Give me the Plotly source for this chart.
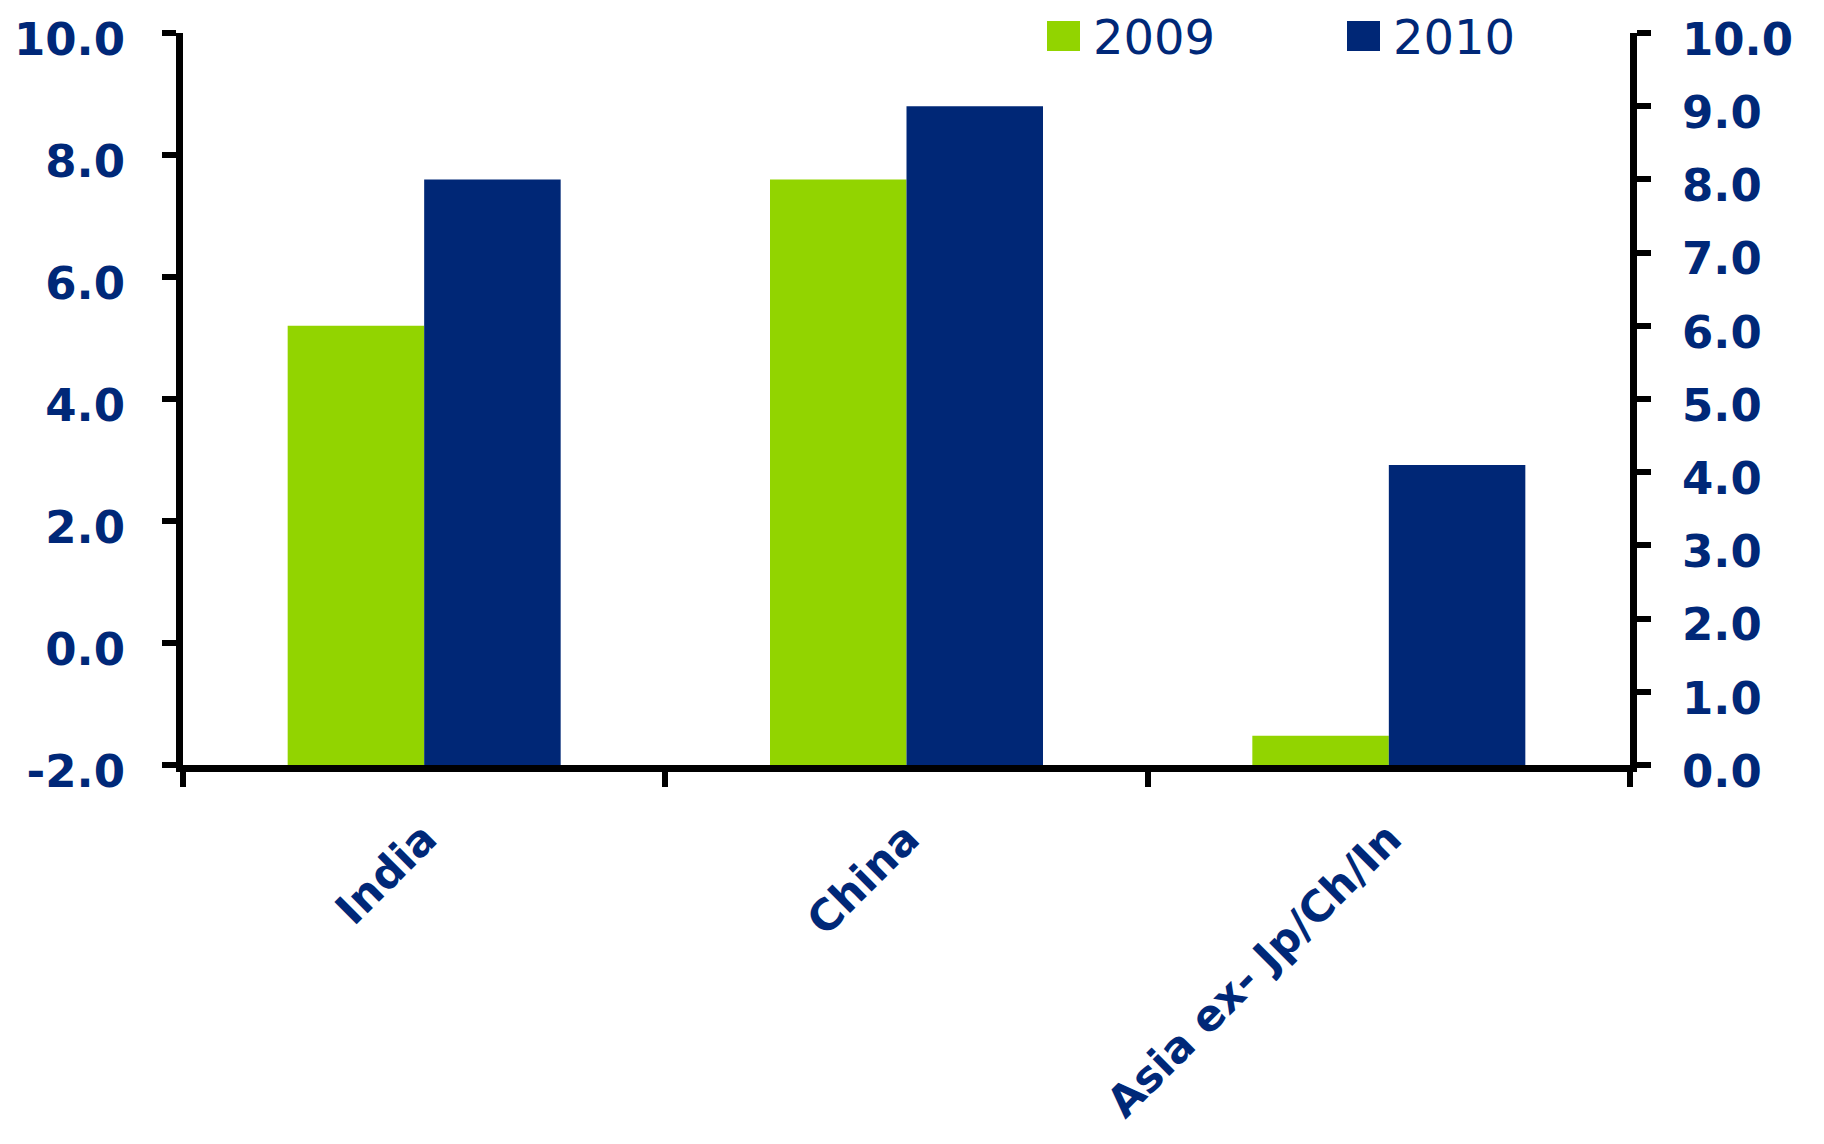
import plotly.graph_objects as go

# ---- data ----
categories = ["India", "China", "Asia ex- Jp/Ch/In"]
series_names = ["2009", "2010"]
values_2009 = [6.0, 8.0, 0.4]
values_2010 = [8.0, 9.0, 4.1]
left_ticks = [-2, 0, 2, 4, 6, 8, 10]
right_ticks = [0, 1, 2, 3, 4, 5, 6, 7, 8, 9, 10]

GREEN = "#92D400"
NAVY = "#002776"
TEXT = "#002878"

W, H = 1824, 1144
OFF = 8  # default body margin of the html page
ML, MR, MT, MB = 183 - OFF, 194 + OFF, 33 - OFF, 379 + OFF
PW, PH = W - ML - MR, H - MT - MB


def px_x(x):
    return (x - OFF - ML) / PW


def px_y(y):
    return (H - MB - (y - OFF)) / PH


fig = go.Figure()
fig.add_trace(go.Bar(x=categories, y=values_2009, name=series_names[0],
                     marker=dict(color=GREEN, line=dict(width=0)),
                     yaxis="y2", showlegend=False))
fig.add_trace(go.Bar(x=categories, y=values_2010, name=series_names[1],
                     marker=dict(color=NAVY, line=dict(width=0)),
                     yaxis="y2", showlegend=False))
# invisible trace anchoring the left axis
fig.add_trace(go.Scatter(x=categories, y=[None, None, None], mode="lines",
                         showlegend=False, hoverinfo="skip"))

tickfont = dict(family="DejaVu Sans", size=45, color=TEXT, weight="bold")
xtickfont = dict(family="DejaVu Sans", size=43, color=TEXT, weight="bold")

fig.update_layout(
    width=W, height=H,
    margin=dict(l=ML, r=MR, t=MT, b=MB, autoexpand=False),
    paper_bgcolor="white", plot_bgcolor="white",
    barmode="group", bargap=0.434, bargroupgap=0,
    showlegend=False,
    xaxis=dict(
        type="category", tickangle=-45, tickfont=xtickfont,
        showline=True, linecolor="black", linewidth=7,
        ticks="outside", tickson="boundaries", ticklen=15, tickwidth=6,
        tickcolor="black", showgrid=False, zeroline=False, automargin=False,
        ticklabelstandoff=24, ticklabeloverflow="allow",
    ),
    yaxis=dict(
        range=[-2, 10], tickvals=left_ticks,
        ticktext=[f"{v:.1f}" for v in left_ticks],
        tickfont=tickfont, showline=True, linecolor="black", linewidth=7,
        ticks="outside", ticklen=14, tickwidth=6, tickcolor="black",
        showgrid=False, zeroline=False, automargin=False,
        ticklabelstandoff=28, ticklabeloverflow="allow", ticklabelshift=6,
    ),
    yaxis2=dict(
        range=[0, 10], tickvals=right_ticks,
        ticktext=[f"{v:.1f}" for v in right_ticks],
        overlaying="y", side="right", anchor="x",
        tickfont=tickfont, showline=True, linecolor="black", linewidth=7,
        ticks="outside", ticklen=14, tickwidth=6, tickcolor="black",
        showgrid=False, zeroline=False, automargin=False,
        ticklabelstandoff=22, ticklabeloverflow="allow", ticklabelshift=6,
    ),
)

# ---- legend (drawn as squares + text at the top) ----
legend_colors = [GREEN, NAVY]
legend_sq_left = [1047, 1347]
for name, col, x0 in zip(series_names, legend_colors, legend_sq_left):
    fig.add_shape(type="rect", xref="paper", yref="paper",
                  x0=px_x(x0), x1=px_x(x0 + 33), y0=px_y(51), y1=px_y(21),
                  fillcolor=col, line=dict(width=0))
    fig.add_annotation(text=name, xref="paper", yref="paper",
                       x=px_x(x0 + 44), y=px_y(37), xanchor="left", yanchor="middle",
                       showarrow=False,
                       font=dict(family="DejaVu Sans", size=48, color=TEXT))

fig.write_html("out.html")
